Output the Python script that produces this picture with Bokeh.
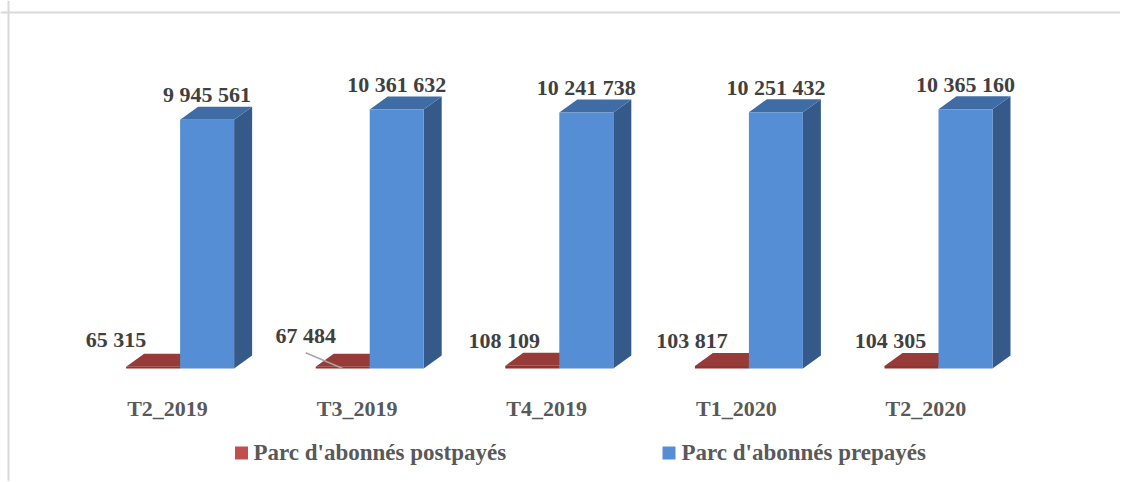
import numpy as np
from bokeh.plotting import figure
from bokeh.models import Range1d, Span
from bokeh.embed import file_html
from bokeh.resources import INLINE
from bokeh.core.properties import value

# ---------------- data ----------------
categories = ["T2_2019", "T3_2019", "T4_2019", "T1_2020", "T2_2020"]
postpaid = [65315, 67484, 108109, 103817, 104305]
prepaid = [9945561, 10361632, 10241738, 10251432, 10365160]
series_names = ["Parc d'abonnés postpayés", "Parc d'abonnés prepayés"]

# label placement tweaks (pixels) for the small postpaid values
post_label_dx = [-37, -37, -28, -30, -21]
post_label_dy = [19, 23, 17, 17, 17]
leader_for = [1]


def fmt(n):
    return f"{n:,}".replace(",", " ")


# ---------------- layout ----------------
W, H = 1120, 481
x_start, x_end = -0.9473, 4.9599
y_start, y_end = -4.52e6, 14.72e6
sx = W / (x_end - x_start)   # px per category unit
sy = H / (y_end - y_start)   # px per value unit
TS = 8 / sy                  # text baseline correction (px -> data)


def page_x(px):
    return x_start + px / sx


def page_y(py):
    return y_end - py / sy


FONT = value("'Liberation Serif', 'DejaVu Serif', serif")
RED_FRONT, RED_TOP, RED_LEG = "#8E3431", "#973B38", "#C0504D"
BLUE_FRONT, BLUE_TOP, BLUE_SIDE = "#558ED5", "#406CA6", "#355A8A"

p = figure(width=W, height=H, x_range=Range1d(x_start, x_end),
           y_range=Range1d(y_start, y_end), output_backend="svg",
           toolbar_location=None, x_axis_location=None, y_axis_location=None,
           min_border=0, outline_line_color=None)
p.grid.visible = False
p.background_fill_color = "white"
p.border_fill_color = "white"

bar_w = 54 / sx
ddx = 18 / sx
ddy = 13 / sy
idx = np.arange(len(categories))

# frame border
p.add_layout(Span(location=page_y(12), dimension="width", line_color="#D9D9D9", line_width=2))
p.add_layout(Span(location=page_x(8), dimension="height", line_color="#D9D9D9", line_width=2))

# postpaid (red) bars
p.patches(xs=[[i - bar_w, i, i + ddx, i - bar_w + ddx] for i in idx],
          ys=[[r, r, r + ddy, r + ddy] for r in postpaid],
          fill_color=RED_TOP, line_color=None)
p.patches(xs=[[i, i + ddx, i + ddx, i] for i in idx],
          ys=[[0, ddy, r + ddy, r] for r in postpaid],
          fill_color=RED_FRONT, line_color=None)
p.quad(left=idx - bar_w, right=idx, bottom=0, top=postpaid,
       fill_color=RED_FRONT, line_color=None)

# prepaid (blue) bars
p.patches(xs=[[i + bar_w, i + bar_w + ddx, i + bar_w + ddx, i + bar_w] for i in idx],
          ys=[[0, ddy, v + ddy, v] for v in prepaid],
          fill_color=BLUE_SIDE, line_color=None)
p.patches(xs=[[i, i + bar_w, i + bar_w + ddx, i + ddx] for i in idx],
          ys=[[v, v, v + ddy, v + ddy] for v in prepaid],
          fill_color=BLUE_TOP, line_color=None)
p.quad(left=idx, right=idx + bar_w, bottom=0, top=prepaid,
       fill_color=BLUE_FRONT, line_color=None)

# value labels
p.text(x=idx + bar_w / 2, y=[v + ddy + 4 / sy + TS for v in prepaid],
       text=[fmt(v) for v in prepaid], text_font=FONT, text_font_style="bold",
       text_font_size="22px", text_color="#404040", text_align="center",
       text_baseline="alphabetic")
lx = [i - bar_w / 2 + dx / sx for i, dx in zip(idx, post_label_dx)]
ly = [r + dy / sy for r, dy in zip(postpaid, post_label_dy)]
p.text(x=lx, y=[v + TS for v in ly], text=[fmt(r) for r in postpaid], text_font=FONT,
       text_font_style="bold", text_font_size="22px", text_color="#404040",
       text_align="center", text_baseline="alphabetic")
p.segment(x0=[lx[k] for k in leader_for], y0=[ly[k] - 9 / sy for k in leader_for],
          x1=[idx[k] - bar_w / 2 for k in leader_for], y1=[0 for k in leader_for],
          line_color="#A6A6A6", line_width=1.5)

# category labels
p.text(x=idx - 12.6 / sx, y=[-48 / sy + TS] * len(categories), text=categories,
       text_font=FONT, text_font_style="bold", text_font_size="22px",
       text_color="#595959", text_align="center", text_baseline="alphabetic")

# legend
leg_sq_x = [page_x(241), page_x(668.5)]
leg_tx_x = [page_x(253), page_x(681)]
p.scatter(x=leg_sq_x, y=[page_y(452.5)] * 2, marker="square", size=13,
          fill_color=[RED_LEG, BLUE_FRONT], line_color=None)
p.text(x=leg_tx_x, y=[page_y(460) + TS] * 2, text=series_names, text_font=FONT,
       text_font_style="bold", text_font_size="23px", text_color="#595959",
       text_align="left", text_baseline="alphabetic")

open("out.html", "w").write(file_html(p, INLINE))
